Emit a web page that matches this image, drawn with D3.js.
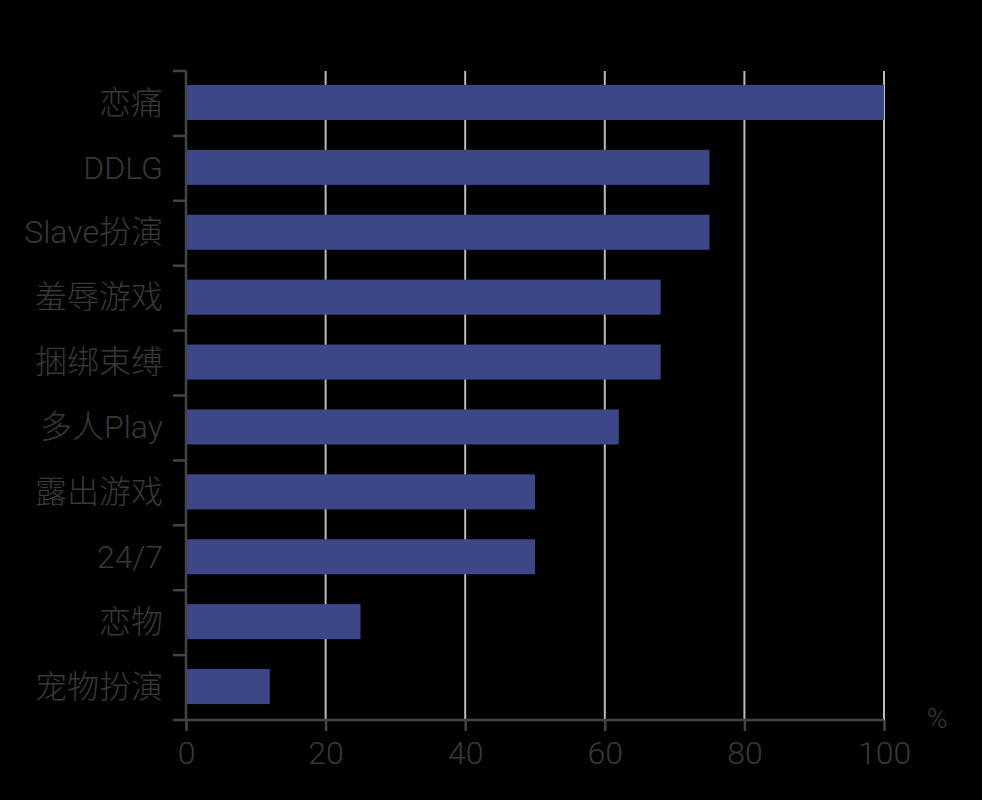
<!DOCTYPE html>
<html>
<head>
<meta charset="utf-8">
<script src="https://cdn.jsdelivr.net/npm/d3@7"></script>
<style>
  html, body { margin: 0; padding: 0; background: #000; }
  svg { display: block; }
</style>
</head>
<body>
<div id="chart"></div>
<script>
const categories = ["恋痛", "DDLG", "Slave扮演", "羞辱游戏", "捆绑束缚", "多人Play", "露出游戏", "24/7", "恋物", "宠物扮演"];
const values = [100, 75, 75, 68, 68, 62, 50, 50, 25, 12];
const xTicks = [0, 20, 40, 60, 80, 100];
const unitLabel = "%";

const width = 982, height = 800;
const margin = {top: 71, right: 98, bottom: 80, left: 186};
const fontFamily = "Roboto, 'Noto Sans CJK SC', sans-serif";
const textColor = "#383838";
const axisColor = "#444";
const gridColor = "#bbb";
const barColor = "#3d4787";

const svg = d3.select("#chart").append("svg")
    .attr("width", width)
    .attr("height", height);

const x = d3.scaleLinear()
    .domain([0, 100])
    .range([margin.left, width - margin.right]);

const y = d3.scaleBand()
    .domain(categories)
    .range([margin.top - 1, height - margin.bottom - 1])
    .paddingInner(0.46)
    .paddingOuter(0.23);

// vertical grid lines
svg.append("g")
    .selectAll("line")
    .data(xTicks.filter(d => d > 0))
    .enter()
    .append("line")
    .attr("x1", d => x(d))
    .attr("x2", d => x(d))
    .attr("y1", margin.top)
    .attr("y2", height - margin.bottom)
    .attr("stroke", gridColor)
    .attr("stroke-width", 2);

// bars
svg.append("g")
    .selectAll("rect")
    .data(categories)
    .enter()
    .append("rect")
    .attr("x", x(0))
    .attr("y", d => y(d))
    .attr("width", (d, i) => x(values[i]) - x(0))
    .attr("height", y.bandwidth())
    .attr("fill", barColor);

// y axis: ticks sit on band boundaries
const yBounds = d3.range(categories.length + 1).map(i => margin.top + i * (height - margin.bottom - margin.top) / categories.length);
const yAxis = svg.append("g");
yAxis.append("line")
    .attr("x1", x(0)).attr("x2", x(0))
    .attr("y1", margin.top).attr("y2", height - margin.bottom)
    .attr("stroke", axisColor).attr("stroke-width", 2.5);
yAxis.selectAll("line.tick")
    .data(yBounds)
    .enter()
    .append("line")
    .attr("class", "tick")
    .attr("x1", x(0) - 13).attr("x2", x(0))
    .attr("y1", d => d).attr("y2", d => d)
    .attr("stroke", axisColor).attr("stroke-width", 2.5);
yAxis.selectAll("text")
    .data(categories)
    .enter()
    .append("text")
    .attr("x", x(0) - 23)
    .attr("y", d => y(d) + y.bandwidth() / 2)
    .attr("dy", "0.35em")
    .attr("text-anchor", "end")
    .attr("font-family", fontFamily)
    .attr("font-weight", 300)
    .attr("font-size", 32)
    .attr("fill", textColor)
    .text(d => d);

// x axis
const xAxis = svg.append("g")
    .attr("transform", `translate(0, ${height - margin.bottom})`)
    .call(d3.axisBottom(x).tickValues(xTicks).tickSize(11).tickPadding(10));
xAxis.select(".domain")
    .attr("stroke", axisColor).attr("stroke-width", 2.5)
    .attr("d", `M${x(0)},0H${x(100)}`);
xAxis.selectAll(".tick line").attr("stroke", axisColor).attr("stroke-width", 2.5);
xAxis.selectAll(".tick text")
    .attr("font-family", fontFamily)
    .attr("font-weight", 300)
    .attr("font-size", 32)
    .attr("fill", textColor);

svg.append("text")
    .attr("x", x(100) + 53)
    .attr("y", height - margin.bottom + 8)
    .attr("text-anchor", "middle")
    .attr("font-family", fontFamily)
    .attr("font-weight", 300)
    .attr("font-size", 28)
    .attr("fill", textColor)
    .text(unitLabel);
</script>
</body>
</html>
